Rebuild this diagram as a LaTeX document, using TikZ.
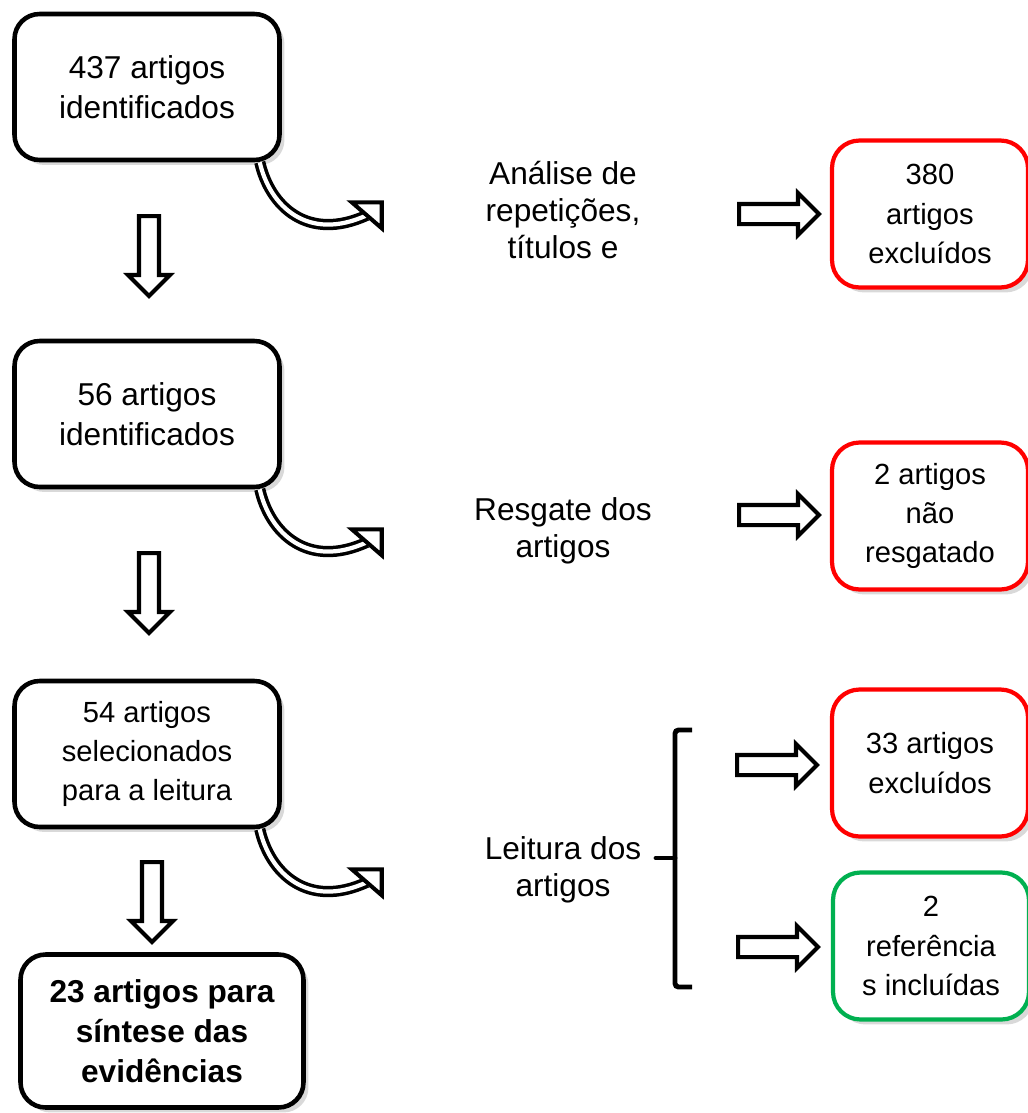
\documentclass[tikz,border=0pt]{standalone}
\usepackage{fontspec}
\setmainfont{Liberation Sans}
\usepackage{xcolor}
\usepackage{tikz}
\usetikzlibrary{shapes.arrows, shadows, calc, positioning}
\definecolor{boxred}{RGB}{255, 0, 0}
\definecolor{boxgreen}{RGB}{0, 176, 80}
\newcommand{\bigtxt}{\fontsize{18}{22.7}\selectfont}
\newcommand{\midtxt}{\fontsize{18}{21.2}\selectfont}
\newcommand{\smalltxt}{\fontsize{16.6}{22.3}\selectfont}
\tikzset{
  flowbox/.style={draw, line width=2.6pt, rounded corners=0.5cm, fill=white, align=center,
    minimum width=5.3cm, minimum height=2.92cm, font=\bigtxt,
    drop shadow={shadow xshift=0.1cm, shadow yshift=-0.1cm, opacity=0.3}},
  outbox/.style={flowbox, line width=2.4pt, minimum width=3.92cm, minimum height=2.94cm,
    rounded corners=0.55cm, font=\smalltxt},
  blockarrow/.style={single arrow, draw, line width=2.3pt, fill=white, inner sep=0pt,
    inner ysep=0.16cm, outer sep=0pt, minimum height=1.6cm,
    single arrow head extend=0.22cm, single arrow tip angle=90},
  curvyshaft/.style={line width=2pt, double=white, double distance=2.4pt},
  curvyhead/.style={line width=2.3pt, fill=white, line join=miter}
}

\begin{document}
\begin{tikzpicture}[x=0.02cm, y=-0.02cm]
\useasboundingbox (0,0) rectangle (1028,1113);

% left column
\node[flowbox] (found) at (147,87) {437 artigos\\identificados};
\node[flowbox] (kept) at (147,414) {56 artigos\\identificados};
\node[flowbox, font=\smalltxt] (chosen) at (147,754) {54 artigos\\selecionados\\para a leitura};
\node[flowbox, minimum width=5.66cm, minimum height=3.06cm, font=\bigtxt\bfseries] (final) at (162,1031) {23 artigos para\\síntese das\\evidências};

\node[blockarrow, rotate=-90] (down1) at (149,251) {};
\node[blockarrow, rotate=-90] (down2) at (149,588) {};
\node[blockarrow, rotate=-90] (down3) at (152,897) {};

% curved arrows out of the boxes
\coordinate (tipA) at ($(found.south east)+(85,53)$);
\coordinate (tipB) at ($(kept.south east)+(85,53)$);
\coordinate (tipC) at ($(chosen.south east)+(85,53)$);
\draw[curvyshaft] ($(found.south east)+(-22,0)$) .. controls ($(found.south east)+(-12,44)$) and ($(found.south east)+(26,80)$) .. (tipA);
\draw[curvyshaft] ($(kept.south east)+(-22,0)$) .. controls ($(kept.south east)+(-12,44)$) and ($(kept.south east)+(26,80)$) .. (tipB);
\draw[curvyshaft] ($(chosen.south east)+(-22,0)$) .. controls ($(chosen.south east)+(-12,44)$) and ($(chosen.south east)+(26,80)$) .. (tipC);
\draw[curvyhead] ($(tipA)+(-15,-13)$) -- ($(tipA)+(15,-13)$) -- ($(tipA)+(15,13)$) -- cycle;
\draw[curvyhead] ($(tipB)+(-15,-13)$) -- ($(tipB)+(15,-13)$) -- ($(tipB)+(15,13)$) -- cycle;
\draw[curvyhead] ($(tipC)+(-15,-13)$) -- ($(tipC)+(15,-13)$) -- ($(tipC)+(15,13)$) -- cycle;

% middle steps
\node[font=\midtxt, align=center] (stepA) at (563,210) {Análise de\\repetições,\\títulos e};
\node[font=\midtxt, align=center] (stepB) at (563,531) {Resgate dos\\artigos};
\node[font=\midtxt, align=center] (stepC) at (563,870) {Leitura dos\\artigos};

\draw[line width=2.8pt, rounded corners=2pt] (692,730) -- (675,730) -- (675,987) -- (692,987);
\draw[line width=2.8pt, line cap=round] (675,858) -- (656,858);

\node[blockarrow] (right1) at (774,214) {};
\node[blockarrow] (right2) at (774,515) {};
\node[blockarrow] (right3) at (772,765) {};
\node[blockarrow] (right4) at (773,947) {};

% right column
\node[outbox, draw=boxred] (gone1) at (930,214) {380\\artigos\\excluídos};
\node[outbox, draw=boxred] (gone2) at (930,516) {2 artigos\\não\\resgatado};
\node[outbox, draw=boxred] (gone3) at (930,763) {33 artigos\\excluídos};
\node[outbox, draw=boxgreen] (taken) at (931,946) {2\\referência\\s incluídas};
\end{tikzpicture}
\end{document}
